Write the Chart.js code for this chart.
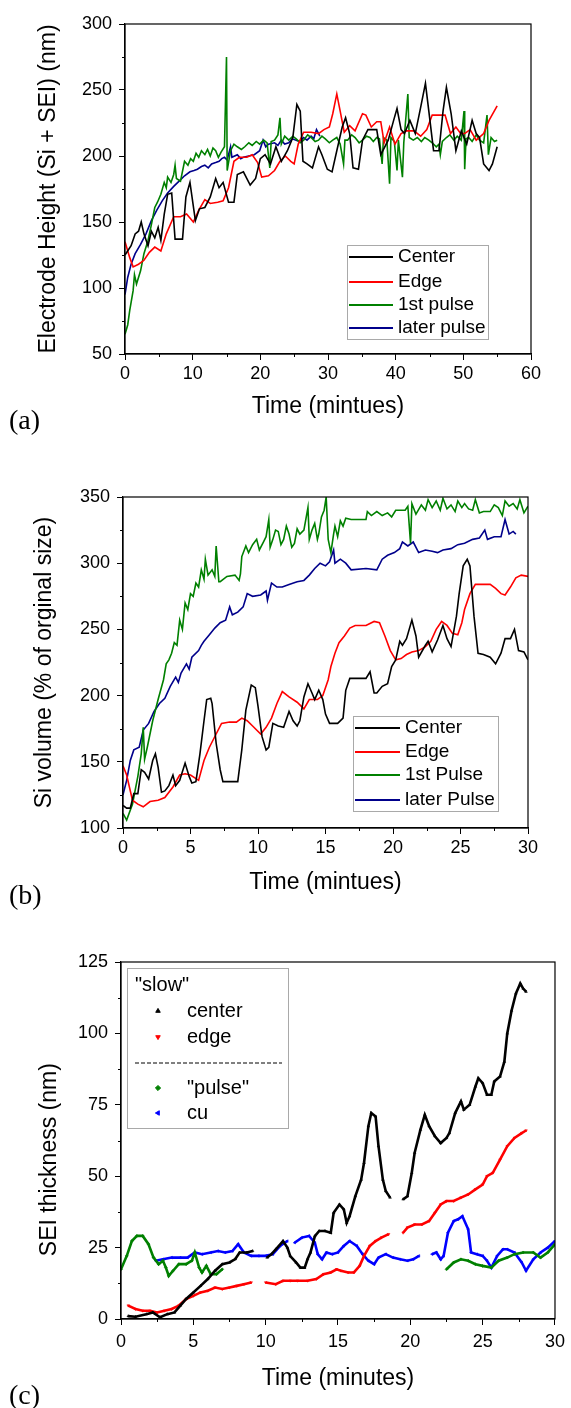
<!DOCTYPE html>
<html>
<head>
<meta charset="utf-8">
<script src="https://cdn.jsdelivr.net/npm/chart.js@4.4.0/dist/chart.umd.min.js"></script>
<style>
    body { margin: 0; background: #fff; width: 571px; height: 1408px; position: relative; overflow: hidden; }
    .panel { position: absolute; left: 0; width: 571px; }
    .tag { position: absolute; left: 9px; font-family: "Liberation Serif", "Times New Roman", serif; font-size: 28px; line-height: 1; color: #000; }
</style>
</head>
<body>
<div class="panel" style="top:0;height:440px"><canvas id="chartA"></canvas></div>
<div class="panel" style="top:460px;height:440px"><canvas id="chartB"></canvas></div>
<div class="panel" style="top:940px;height:468px"><canvas id="chartC"></canvas></div>
<div class="tag" style="top:406px">(a)</div>
<div class="tag" style="top:881px">(b)</div>
<div class="tag" style="top:1381px">(c)</div>
<script>
/* (a) electrode height, [minutes, nm] */
const aCenter = [[0,125],[0.9,132],[1.5,141],[2,143],[2.4,150],[2.8,141],[3.4,132],[3.9,143],[4.4,138],[4.9,146],[5.3,136],[5.8,156],[6.3,171],[6.9,172],[7.4,137],[8.5,137],[9,169],[9.6,180],[10.4,151],[11,160],[11.8,161],[12.6,169],[13.4,183],[13.9,176],[14.5,180],[15.3,165],[16.1,165],[16.6,186],[17.5,188],[18.5,178],[19.3,183],[20,198],[20.7,201],[21.5,194],[22.3,207],[23.1,196],[24,204],[24.8,214],[25.4,239],[25.9,234],[26.3,196],[26.9,194],[27.7,191],[28.6,207],[29.1,201],[29.9,190],[30.6,188],[31.3,204],[32.1,222],[32.6,229],[33.2,217],[33.7,191],[34.5,190],[35.1,212],[35.9,220],[37.2,220],[37.8,201],[38.9,212],[39.7,227],[40.2,236],[40.8,220],[41.3,217],[42.1,227],[42.9,217],[43.7,237],[44.4,255],[44.9,234],[45.6,204],[46.4,204],[47,234],[47.5,252],[48.2,232],[48.9,204],[49.7,219],[50.5,209],[51.3,227],[51.9,217],[52.4,214],[53,194],[53.8,189],[54.3,194],[55,207]];
const aEdge = [[0,135],[0.7,123],[1.2,116],[2,118],[2.8,121],[3.6,127],[4.4,131],[5.3,128],[6.1,141],[7.2,154],[8.2,154],[9.1,156],[10.1,150],[10.9,159],[11.8,167],[12.6,164],[13.7,165],[14.5,166],[15.3,176],[16.1,196],[16.9,199],[18,199],[18.8,201],[19.6,195],[20.2,184],[21.2,185],[22.1,189],[22.9,196],[23.7,200],[24.5,196],[25,194],[25.6,209],[26.4,218],[27.5,218],[28.6,217],[29.4,220],[30.2,222],[30.7,232],[31.3,247],[31.8,234],[32.4,218],[33.2,223],[34,219],[35.1,232],[35.6,231],[36.4,222],[37.2,226],[37.8,226],[38.3,210],[39.1,222],[39.9,209],[40.8,217],[41.6,219],[42.7,219],[43.7,215],[44.6,220],[45.4,231],[46.4,231],[47.3,231],[48.1,217],[48.9,222],[49.6,217],[50.2,217],[51,220],[51.9,212],[53,217],[53.8,227],[55,238]];
const aFirstPulse = [[0,65],[0.4,72],[0.7,83],[1.2,98],[1.4,110],[1.7,103],[2.3,113],[2.8,126],[3.4,136],[3.9,148],[4.4,161],[4.8,165],[5.3,171],[5.8,180],[6.1,176],[6.3,184],[6.8,180],[7.2,186],[7.4,193],[7.6,183],[8.2,181],[8.8,196],[9.3,193],[9.7,198],[10.1,196],[10.5,202],[10.9,199],[11.3,204],[11.8,201],[12.2,205],[12.6,200],[13,206],[13.4,204],[13.8,199],[14.2,203],[14.7,207],[15,275],[15.1,189],[15.6,204],[16.1,209],[16.6,207],[17.2,205],[17.7,207],[18.3,210],[18.8,208],[19.4,211],[19.9,209],[20.5,212],[21,210],[21.4,191],[21.6,211],[22.1,212],[22.6,216],[22.9,229],[23.1,209],[23.6,215],[24.2,212],[24.8,215],[25.3,213],[25.9,210],[26.4,212],[27,216],[27.5,214],[28.1,211],[28.6,212],[29.1,215],[29.6,213],[30.2,210],[30.7,212],[31.3,214],[31.8,209],[32.3,194],[32.5,212],[32.9,212],[33.5,216],[34,214],[34.6,210],[35.1,212],[35.7,215],[36.2,214],[36.7,211],[37.2,214],[37.6,213],[38,194],[38.2,214],[38.7,212],[39.1,179],[39.3,214],[39.8,211],[40.2,189],[40.4,212],[41,184],[41.2,210],[41.8,247],[42,214],[42.6,212],[43.2,214],[43.8,211],[44.3,214],[44.9,212],[45.4,210],[46,207],[46.4,209],[46.6,201],[46.9,211],[47.5,214],[48,216],[48.6,212],[49.1,215],[49.7,212],[50.1,234],[50.2,190],[50.4,213],[50.8,214],[51.3,211],[51.9,216],[52.4,212],[53,210],[53.5,231],[53.7,201],[54.1,214],[54.6,211],[55,212]];
const aLaterPulse = [[0,95],[0.4,108],[0.9,118],[1.5,126],[2.3,133],[3.1,141],[3.9,151],[4.7,159],[5.5,166],[6.3,172],[7.2,177],[8,181],[8.8,185],[9.6,188],[10.2,189],[10.7,190],[11.3,192],[11.8,193],[12.3,191],[12.8,194],[13.4,195],[13.9,196],[14.3,198],[14.7,199],[15.1,197],[15.6,207],[15.8,199],[16.6,201],[17.1,198],[17.5,199],[18.3,200],[19.1,201],[19.9,204],[20.4,212],[20.8,207],[21.2,209],[22.1,210],[22.6,208],[23.1,212],[23.6,209],[24.2,210],[24.7,213],[25.3,212],[25.8,211],[26.4,214],[26.9,212],[27.5,215],[27.9,213],[28.3,220],[28.8,215]];

/* (b) Si volume, [minutes, % of original] */
const bCenter = [[0,117],[0.27,115],[0.54,115],[0.8,126],[1.1,126],[1.35,144],[1.6,142],[1.9,137],[2.2,151],[2.4,156],[2.6,146],[2.85,127],[3.1,128],[3.4,132],[3.7,140],[3.9,132],[4.2,136],[4.6,149],[4.9,139],[5.1,134],[5.4,135],[5.7,156],[6,181],[6.2,197],[6.5,198],[6.6,194],[6.9,164],[7.2,144],[7.4,135],[7.7,135],[8.5,135],[8.8,159],[9.1,189],[9.5,208],[9.8,206],[10,192],[10.3,169],[10.6,159],[10.8,161],[11.1,179],[11.5,177],[11.9,176],[12.3,188],[12.6,181],[12.9,177],[13.1,181],[13.4,199],[13.7,209],[14,202],[14.2,197],[14.5,204],[14.8,197],[15,186],[15.3,179],[15.9,179],[16.3,183],[16.5,204],[16.8,213],[17.3,213],[18,213],[18.3,218],[18.6,202],[18.8,202],[19.2,207],[19.6,209],[19.9,222],[20.2,227],[20.5,241],[20.7,238],[21,243],[21.4,257],[21.7,245],[21.9,229],[22.4,238],[22.6,241],[22.9,233],[23.3,242],[23.7,253],[24,243],[24.3,237],[24.7,260],[24.9,277],[25.2,298],[25.5,303],[25.7,298],[26,260],[26.3,232],[26.7,231],[27.2,229],[27.6,224],[28,232],[28.3,243],[28.7,243],[29,250],[29.3,234],[29.7,233],[30,227]];
const bEdge = [[0,147],[0.27,140],[0.7,121],[1.1,118],[1.5,116],[2,120],[2.6,121],[3.1,123],[3.7,131],[4.2,140],[4.6,141],[5,140],[5.6,136],[6,151],[6.4,161],[6.9,171],[7.3,179],[7.9,180],[8.4,180],[8.8,183],[9.2,181],[9.6,177],[10.2,171],[10.6,176],[11,183],[11.4,194],[11.8,203],[12.3,199],[12.9,195],[13.4,190],[13.8,197],[14.4,197],[14.8,200],[15.2,212],[15.4,222],[15.7,232],[16,240],[16.4,245],[16.8,251],[17.2,253],[18,253],[18.6,256],[19,255],[19.4,245],[19.8,234],[20.2,227],[20.6,228],[21,231],[21.4,233],[21.9,234],[22.4,237],[22.8,241],[23.2,250],[23.6,256],[24,253],[24.4,247],[24.8,246],[25.1,255],[25.3,265],[25.7,277],[26.1,284],[26.7,284],[27.2,284],[27.6,281],[28,277],[28.3,276],[28.7,282],[29.1,289],[29.5,291],[30,290]];
const bFirstPulse = [[0,111],[0.27,106],[0.7,118],[1.1,139],[1.35,156],[1.5,176],[1.6,152],[1.8,161],[2.2,181],[2.6,197],[3,212],[3.2,224],[3.4,227],[3.6,232],[3.8,240],[4,238],[4.2,257],[4.4,250],[4.6,270],[4.8,265],[5,277],[5.2,275],[5.4,285],[5.6,282],[5.8,295],[6,288],[6.1,303],[6.3,291],[6.6,295],[6.8,290],[6.9,313],[7.1,286],[7.2,286],[7.7,290],[8.3,291],[8.6,287],[8.7,292],[8.8,305],[9.1,313],[9.3,308],[9.6,314],[9.9,318],[10.1,310],[10.4,316],[10.6,320],[10.8,333],[10.9,312],[11.1,318],[11.3,325],[11.5,324],[11.7,314],[11.9,318],[12.1,328],[12.3,322],[12.5,312],[12.7,315],[12.9,326],[13.1,322],[13.4,325],[13.7,342],[13.8,318],[14,325],[14.2,330],[14.4,318],[14.5,322],[14.7,335],[14.9,340],[15.05,350],[15.2,318],[15.4,308],[15.6,322],[15.7,328],[15.9,320],[16.1,332],[16.3,328],[16.5,334],[16.9,333],[18,333],[18.1,339],[18.4,336],[18.8,339],[19.2,336],[19.6,338],[19.9,335],[20.2,340],[20.5,340],[20.9,340],[21.1,343],[21.3,315],[21.4,345],[21.7,337],[22.1,344],[22.4,340],[22.6,348],[22.9,342],[23.2,347],[23.5,340],[23.7,349],[24,341],[24.3,344],[24.6,339],[24.8,347],[25.1,342],[25.3,345],[25.6,341],[25.9,340],[26.1,348],[26.4,338],[26.7,339],[27.2,339],[27.5,344],[27.8,342],[28.1,336],[28.3,347],[28.6,343],[28.9,345],[29.2,341],[29.4,348],[29.7,338],[30,343]];
const bLaterPulse = [[0,125],[0.27,136],[0.54,151],[0.8,159],[1.2,161],[1.5,174],[1.9,179],[2.3,188],[2.7,194],[3.1,198],[3.5,207],[3.9,214],[4.1,210],[4.3,217],[4.7,224],[4.9,220],[5.1,229],[5.6,234],[5.8,238],[6,241],[6.4,246],[6.8,251],[7.2,255],[7.6,257],[7.9,267],[8.1,261],[8.5,263],[8.9,267],[9.2,277],[9.6,275],[10.2,276],[10.6,279],[10.7,272],[11,285],[11.4,282],[11.8,282],[12.3,284],[12.9,286],[13.4,287],[13.8,291],[14.2,296],[14.6,300],[15,298],[15.3,301],[15.6,310],[15.7,300],[16.1,303],[16.5,300],[16.9,295],[18,296],[18.8,295],[19.2,303],[19.6,306],[20.1,308],[20.5,311],[20.7,316],[21.1,313],[21.5,316],[21.9,308],[22.4,310],[22.9,309],[23.3,308],[23.7,310],[24.3,311],[24.8,314],[25.3,315],[25.9,318],[26.4,319],[26.8,325],[27,318],[27.5,320],[28,320],[28.3,333],[28.6,322],[28.9,324],[29.1,322]];

/* (c) SEI thickness, [minutes, nm]; null marks a gap */
const cCenter = [[0.5,1],[1,0.8],[1.75,1.7],[2.2,2.3],[2.7,0.6],[3.2,1.7],[3.7,2.3],[4.1,4.7],[4.5,7],[5,9.3],[5.5,11.6],[6,14],[6.5,16.9],[7,19.2],[7.5,19.8],[7.9,21],[8.2,23.3],[8.7,23.3],[9.1,23.8],[9.6,null],[10.1,21.5],[10.4,22.7],[10.7,24.4],[11.2,27.3],[11.5,25],[11.7,22],[12.1,19.8],[12.4,18],[12.7,18],[12.9,21],[13.1,23.3],[13.4,29],[13.7,30.8],[14.1,30.8],[14.5,30.2],[14.7,37.2],[15.1,40.1],[15.4,38.4],[15.6,33.7],[15.8,36],[16.2,43],[16.6,48.8],[16.8,54.7],[17.1,67.5],[17.3,72.1],[17.6,70.9],[17.8,60.5],[18.1,48.8],[18.3,44.8],[18.6,42.5],[19,null],[19.5,41.9],[19.8,43],[20.1,51.2],[20.3,58.2],[20.7,66.3],[21,71.5],[21.3,67.5],[21.7,64],[22.1,61.6],[22.5,63.4],[22.7,65.1],[23.1,72.1],[23.5,76.2],[23.7,73.3],[24.1,75],[24.5,81.4],[24.7,84.3],[25,82.6],[25.3,78.5],[25.6,78.5],[25.8,83.2],[26.2,84.9],[26.5,90.1],[26.7,100],[27,108],[27.3,114],[27.6,117.5],[27.8,115.7],[28,114.6]];
const cEdge = [[0.5,4.7],[1,3.5],[1.5,2.9],[2,2.9],[2.5,2.3],[3,2.9],[3.5,3.5],[4,4.7],[4.5,7],[5,8.1],[5.5,9.3],[6,9.9],[6.5,11],[7,10.5],[7.5,11],[8,11.6],[8.5,12.2],[9,12.8],[9.5,null],[10,12.8],[10.7,12.2],[11.2,13.4],[11.7,13.4],[12.2,13.4],[12.9,13.4],[13.5,14],[14,15.7],[14.5,16.3],[14.9,17.4],[15.2,16.9],[15.7,16.3],[16.1,16.3],[16.5,18.6],[16.8,22.1],[17.2,25.6],[17.6,27.3],[18,28.5],[18.5,29.7],[19,null],[19.5,30.2],[19.8,32],[20.3,33.1],[20.8,33.1],[21.3,34.3],[21.7,37.2],[22.1,40.1],[22.5,41.3],[23,41.3],[23.5,42.5],[24,43.6],[24.5,45.4],[25,47.1],[25.3,50],[25.7,51.2],[26.2,55.8],[26.7,60.5],[27.2,63.4],[27.7,65.1],[28,66]];
const cPulse = [[0,17.4],[0.4,22.1],[0.75,27.3],[1.1,29.1],[1.5,29.1],[1.9,26.2],[2.25,21.5],[2.6,19.2],[2.9,20.4],[3.1,18],[3.3,15.1],[3.6,16.9],[4,19.2],[4.5,19.2],[4.9,20.4],[5.1,23.3],[5.4,18],[5.6,16.3],[5.9,18.6],[6.2,15.7],[6.6,15.7],[7,17.4],[15,null],[22.5,17.4],[23,19.8],[23.5,20.9],[24,20.4],[24.5,19.2],[25,18.6],[25.6,18],[26.1,20.4],[26.7,21.5],[27.2,22.7],[27.8,23.3],[28.5,23.3],[29,21.5],[29.5,23.3],[30,26.2]];
const cCu = [[2.4,20.4],[2.9,20.9],[3.5,21.5],[4.1,21.5],[4.6,21.5],[5.1,23.3],[5.6,22.7],[6.2,23.3],[6.7,23.8],[7.2,23.3],[7.7,23.8],[8.1,26.2],[8.5,23.3],[9,22.1],[9.5,22.1],[10,22.1],[10.5,22.7],[11,25.6],[11.5,27.3],[11.75,null],[12,26.7],[12.5,28.5],[13,29.1],[13.4,26.7],[13.6,22.7],[13.9,20.9],[14.2,23.3],[14.6,22.7],[15,23.3],[15.4,25.6],[15.8,27.3],[16.3,25.6],[16.7,22.7],[17.1,20.4],[17.5,19.2],[17.8,21.5],[18.3,22.7],[18.8,21.5],[19.3,20.9],[19.8,20.4],[20.2,20.9],[20.6,22.1],[21,null],[21.5,22.7],[21.8,23.3],[22.1,20.9],[22.3,22.1],[22.6,30.2],[23,34.3],[23.3,34.9],[23.6,36],[24,31.4],[24.2,23.3],[24.6,22.7],[25,22.1],[25.3,20.4],[25.6,18],[26,22.1],[26.4,24.4],[26.7,24.4],[27.2,23.3],[27.7,19.8],[28,16.9],[28.5,20.9],[29,23.3],[29.5,25],[30,27.3]];

const FONT = '"Liberation Sans", Arial, sans-serif';
Chart.defaults.font.family = FONT;
Chart.defaults.color = '#000';

const toXY = (arr) => arr.map(([x, y]) => ({ x, y }));

/* Full box round the plot area */
const framePlugin = {
    id: 'frame',
    afterDatasetsDraw(chart) {
        const { ctx, chartArea: a } = chart;
        ctx.save();
        ctx.strokeStyle = '#000';
        ctx.lineWidth = 1.2;
        ctx.strokeRect(a.left, a.top, a.right - a.left, a.bottom - a.top);
        ctx.restore();
    },
};

/* Short ticks half way between the labelled ones */
const minorTicks = {
    id: 'minorTicks',
    afterDraw(chart, args, opts) {
        const { ctx, scales: { x, y } } = chart;
        ctx.save();
        ctx.strokeStyle = '#000';
        ctx.lineWidth = 1;
        ctx.beginPath();
        for (let i = 1; x.min + i * opts.x < x.max; i += 2) {
            const px = Math.round(x.getPixelForValue(x.min + i * opts.x)) + 0.5;
            ctx.moveTo(px, x.top);
            ctx.lineTo(px, x.top + 3);
        }
        for (let i = 1; y.min + i * opts.y < y.max; i += 2) {
            const py = Math.round(y.getPixelForValue(y.min + i * opts.y)) + 0.5;
            ctx.moveTo(y.right - 3, py);
            ctx.lineTo(y.right, py);
        }
        ctx.stroke();
        ctx.restore();
    },
};

/* Boxed legend drawn inside the plot, like the original figure */
const boxLegend = {
    id: 'boxLegend',
    afterDraw(chart, args, o) {
        const ctx = chart.ctx;
        const [bx, by, bw, bh] = o.box;
        ctx.save();
        ctx.fillStyle = '#fff';
        ctx.fillRect(bx, by, bw, bh);
        ctx.strokeStyle = '#a9a9a9';
        ctx.lineWidth = 1;
        ctx.strokeRect(bx + 0.5, by + 0.5, bw, bh);
        ctx.font = o.size + 'px ' + FONT;
        ctx.textBaseline = 'middle';
        ctx.fillStyle = '#000';
        if (o.title) ctx.fillText(o.title, o.titleX, o.titleY);
        if (o.sepY) {
            ctx.strokeStyle = '#000';
            ctx.setLineDash([4, 2]);
            ctx.beginPath();
            ctx.moveTo(o.sepX[0], o.sepY);
            ctx.lineTo(o.sepX[1], o.sepY);
            ctx.stroke();
            ctx.setLineDash([]);
        }
        chart.data.datasets.forEach((ds, i) => {
            const y = o.rowY[i];
            if (o.lineX) {
                ctx.strokeStyle = ds.borderColor;
                ctx.lineWidth = 2;
                ctx.beginPath();
                ctx.moveTo(o.lineX[0], y);
                ctx.lineTo(o.lineX[1], y);
                ctx.stroke();
            } else {
                ctx.fillStyle = ds.borderColor;
                ctx.strokeStyle = ds.borderColor;
                Chart.helpers.drawPoint(ctx, { pointStyle: ds.pointStyle, rotation: ds.pointRotation || 0, radius: 2.6, borderWidth: 0.5 }, o.markX, y);
            }
            ctx.fillStyle = '#000';
            ctx.fillText(ds.label, o.textX, y);
        });
        ctx.restore();
    },
};

function axes(o) {
    return {
        x: {
            type: 'linear',
            min: o.xMin,
            max: o.xMax,
            ticks: { stepSize: o.xStep, font: { size: 18 }, padding: o.xTickPad, maxRotation: 0, autoSkip: false },
            grid: { drawOnChartArea: false, tickLength: 6, tickColor: '#000' },
            border: { color: '#000', width: 1.2 },
            title: { display: true, text: o.xTitle, font: { size: 23 }, padding: { top: 0, bottom: o.xTitlePad } },
            afterFit: (s) => { s.height = o.xHeight; },
        },
        y: {
            type: 'linear',
            min: o.yMin,
            max: o.yMax,
            ticks: { stepSize: o.yStep, font: { size: 18 }, padding: 7 },
            grid: { drawOnChartArea: false, tickLength: 6, tickColor: '#000' },
            border: { color: '#000', width: 1.2 },
            title: { display: true, text: o.yTitle, font: { size: 23 }, padding: { top: o.yTitlePad, bottom: 0 } },
            afterFit: (s) => { s.width = o.yWidth; },
        },
    };
}

function lineSet(label, arr, color) {
    return { label, data: toXY(arr), borderColor: color, backgroundColor: color, borderWidth: 1.6, pointRadius: 0, tension: 0, spanGaps: false };
}

function markSet(label, arr, color, style, rot) {
    return {
        label, data: toXY(arr), borderColor: color, backgroundColor: color,
        borderWidth: 2.6, pointRadius: 1.5, pointStyle: style, pointRotation: rot,
        pointBackgroundColor: color, pointBorderColor: color, pointBorderWidth: 0.5,
        tension: 0, spanGaps: false,
    };
}

const common = {
    animation: false,
    responsive: true,
    maintainAspectRatio: false,
    events: [],
};

new Chart(document.getElementById('chartA'), {
    type: 'line',
    data: {
        datasets: [
            lineSet('Center', aCenter, '#000000'),
            lineSet('Edge', aEdge, '#ff0000'),
            lineSet('1st pulse', aFirstPulse, '#008000'),
            lineSet('later pulse', aLaterPulse, '#00008b'),
        ],
    },
    options: {
        ...common,
        layout: { padding: { top: 24, right: 40, left: 0, bottom: 0 } },
        scales: axes({
            xMin: 0, xMax: 60, xStep: 10, xTitle: 'Time (mintues)', xHeight: 86, xTickPad: 3, xTitlePad: 20,
            yMin: 50, yMax: 300, yStep: 50, yTitle: 'Electrode Height (Si + SEI) (nm)', yWidth: 125, yTitlePad: 35,
        }),
        plugins: {
            legend: { display: false },
            tooltip: { enabled: false },
            minorTicks: { x: 5, y: 25 },
            boxLegend: { box: [347, 245, 141, 94], size: 19, lineX: [349, 393], textX: 398, rowY: [257, 282, 305, 328] },
        },
    },
    plugins: [framePlugin, minorTicks, boxLegend],
});

new Chart(document.getElementById('chartB'), {
    type: 'line',
    data: {
        datasets: [
            lineSet('Center', bCenter, '#000000'),
            lineSet('Edge', bEdge, '#ff0000'),
            lineSet('1st Pulse', bFirstPulse, '#008000'),
            lineSet('later Pulse', bLaterPulse, '#00008b'),
        ],
    },
    options: {
        ...common,
        layout: { padding: { top: 37, right: 43, left: 0, bottom: 0 } },
        scales: axes({
            xMin: 0, xMax: 30, xStep: 5, xTitle: 'Time (mintues)', xHeight: 72, xTickPad: 3, xTitlePad: 4,
            yMin: 100, yMax: 350, yStep: 50, yTitle: 'Si volume (% of orginal size)', yWidth: 123, yTitlePad: 31,
        }),
        plugins: {
            legend: { display: false },
            tooltip: { enabled: false },
            minorTicks: { x: 2.5, y: 25 },
            boxLegend: { box: [353, 256, 145, 95], size: 19, lineX: [355, 400], textX: 405, rowY: [268, 292, 315, 340] },
        },
    },
    plugins: [framePlugin, minorTicks, boxLegend],
});

new Chart(document.getElementById('chartC'), {
    type: 'line',
    data: {
        datasets: [
            markSet('center', cCenter, '#000000', 'triangle', 0),
            markSet('edge', cEdge, '#ff0000', 'triangle', 180),
            markSet('"pulse"', cPulse, '#008000', 'rectRot', 0),
            markSet('cu', cCu, '#0000ff', 'triangle', -90),
        ],
    },
    options: {
        ...common,
        layout: { padding: { top: 22, right: 13, left: 0, bottom: 0 } },
        scales: axes({
            xMin: 0, xMax: 30, xStep: 5, xTitle: 'Time (minutes)', xHeight: 89, xTickPad: 6, xTitlePad: 16,
            yMin: 0, yMax: 125, yStep: 25, yTitle: 'SEI thickness (nm)      ', yWidth: 121, yTitlePad: 36,
        }),
        plugins: {
            legend: { display: false },
            tooltip: { enabled: false },
            minorTicks: { x: 2.5, y: 12.5 },
            boxLegend: {
                box: [127, 28, 161, 160], size: 20, title: '"slow"', titleX: 135, titleY: 45,
                sepY: 123, sepX: [135, 282], markX: 158, textX: 187, rowY: [71, 97, 148, 173],
            },
        },
    },
    plugins: [framePlugin, minorTicks, boxLegend],
});
</script>
</body>
</html>
